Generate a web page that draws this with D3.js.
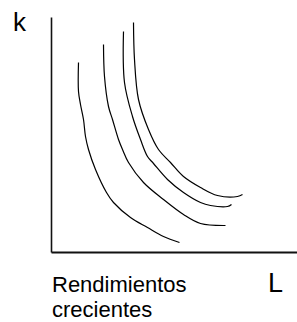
<!DOCTYPE html>
<html>
<head>
<meta charset="utf-8">
<script src="https://cdn.jsdelivr.net/npm/d3@7"></script>
<style>
  html, body { margin: 0; padding: 0; background: #fff; }
  svg { display: block; font-family: "Liberation Sans", Arial, sans-serif; }
</style>
</head>
<body>
<script>
// Isoquants: [L, k] points
const isoquant1 = [[27,190],[27,161],[29,148],[32,133],[34,116],[37,103],[44,83],[55,60],[62,50],[79,35],[96,25],[112,16],[128,10]];
const isoquant2 = [[52,208],[53,176],[57,146],[61,133],[67,113],[71,103],[77,90],[92,70],[112,53],[132,38],[149,29],[174,27]];
const isoquant3 = [[72,221],[73,170],[81,136],[89,113],[96,96],[102,89],[116,73],[132,60],[149,50],[159,47],[176,46],[180,48]];
const isoquant4 = [[82,230],[83,193],[87,153],[97,123],[107,103],[119,90],[132,76],[149,65],[166,57],[186,56],[191,58]];
const isoquants = [isoquant1, isoquant2, isoquant3, isoquant4];

const yLabel = "k";
const xLabel = "L";
const captionLines = ["Rendimientos", "crecientes"];

const W = 297, H = 322;
const svg = d3.select("body").append("svg").attr("width", W).attr("height", H);

const x = d3.scaleLinear().domain([0, 246]).range([51.5, 297.5]);
const y = d3.scaleLinear().domain([0, 235]).range([252.5, 17.5]);

// axes
svg.append("line").attr("x1", x(0)).attr("x2", x(0)).attr("y1", y(235)).attr("y2", y(0))
  .attr("stroke", "#111").attr("stroke-width", 1.6);
svg.append("line").attr("x1", x(0)).attr("x2", x(246)).attr("y1", y(0)).attr("y2", y(0))
  .attr("stroke", "#111").attr("stroke-width", 1.8);

const line = d3.line().x(d => x(d[0])).y(d => y(d[1])).curve(d3.curveCatmullRom.alpha(0.5));

svg.selectAll("path.iso").data(isoquants).join("path")
  .attr("class", "iso")
  .attr("d", line)
  .attr("fill", "none")
  .attr("stroke", "#000")
  .attr("stroke-width", 1.2);

svg.append("text").attr("x", 13).attr("y", 31).attr("font-size", 26).attr("fill", "#000").text(yLabel);
svg.append("text").attr("x", 268).attr("y", 292).attr("font-size", 27).attr("fill", "#000").text(xLabel);

svg.append("text").attr("x", 52).attr("y", 292).attr("font-size", 22).attr("fill", "#000")
  .selectAll("tspan").data(captionLines).join("tspan")
  .attr("x", 52).attr("dy", (d, i) => i === 0 ? 0 : 25).text(d => d);
</script>
</body>
</html>
